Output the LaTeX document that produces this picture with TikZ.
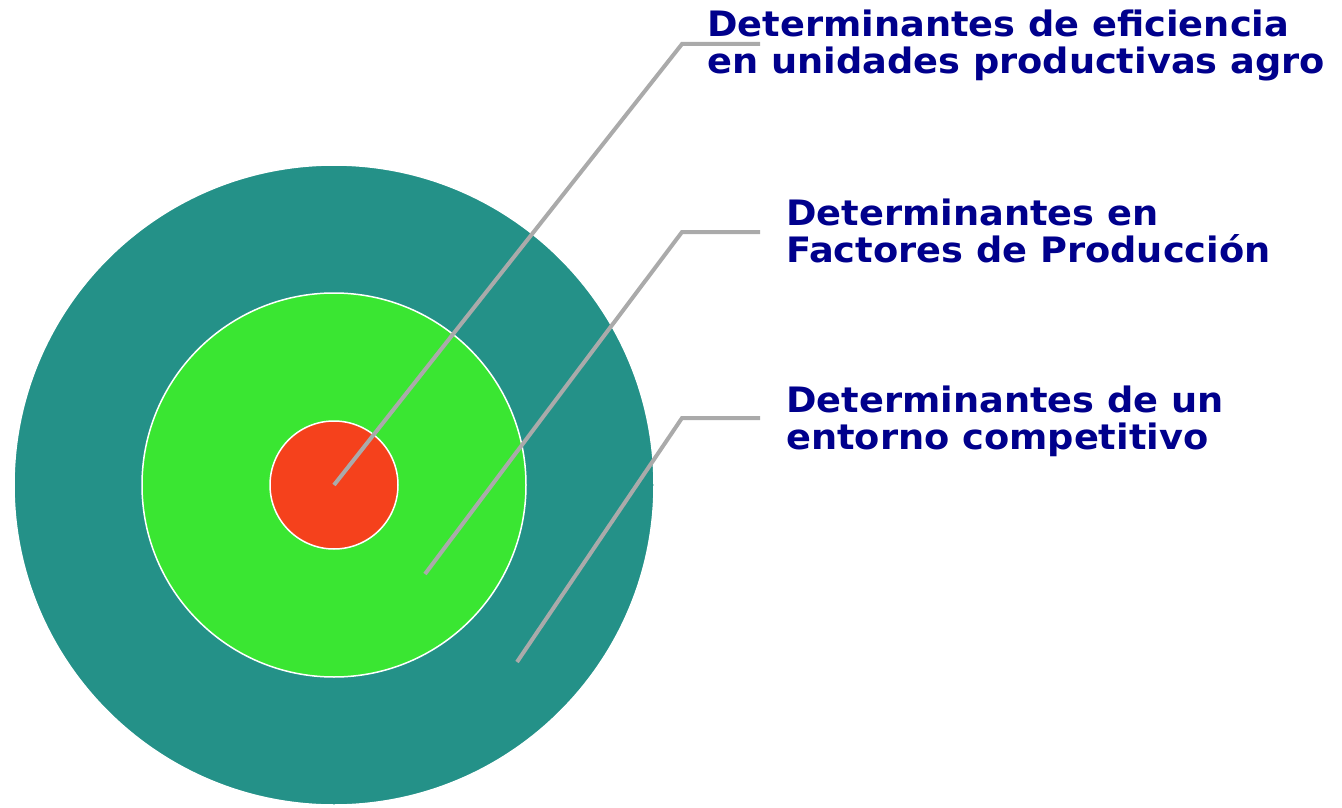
\documentclass[tikz,border=0pt]{standalone}
\usepackage{fontspec}
\setmainfont{DejaVu Sans}
\newfontfamily\labfont[FakeStretch=1.05]{DejaVu Sans}
\definecolor{ringteal}{RGB}{36,145,136}
\definecolor{ringgreen}{RGB}{58,230,50}
\definecolor{ringred}{RGB}{245,65,28}
\definecolor{leadgray}{RGB}{170,170,170}
\definecolor{labblue}{RGB}{0,0,140}
\tikzset{
  ring/.style={circle, draw=white, line width=1.5pt, inner sep=0pt},
  lead/.style={draw=leadgray, line width=4pt, line join=miter},
  lab/.style={text=labblue, font=\labfont\bfseries\fontsize{35}{37}\selectfont, align=left, inner sep=0pt, anchor=base west}
}
\begin{document}
\begin{tikzpicture}[x=1pt, y=-1pt]
    \useasboundingbox (0,0) rectangle (1342,808);
    \node[ring, fill=ringteal, minimum size=640pt] (outer) at (334,485) {};
    \node[ring, fill=ringgreen, minimum size=384pt] (middle) at (334,485) {};
    \node[ring, fill=ringred, minimum size=128pt] (inner) at (334,485) {};
    \node[lab] (l1) at (707,74) {Determinantes de eficiencia\\en unidades productivas agro};
    \node[lab] (l2) at (786,262) {Determinantes en\\Factores de Producción};
    \node[lab] (l3) at (786,449) {Determinantes de un\\entorno competitivo};
    \foreach \x/\y [count=\i from 1] in {334/485,425/574,517/662} {\coordinate (p\i) at (\x,\y);}
    \foreach \k [count=\i from 1] in {44,232,418} {\coordinate (k\i) at (682,\k); \coordinate (e\i) at (760,\k);}
    \foreach \i in {1,2,3} {\draw[lead] (p\i)--(k\i)--(e\i);}
  \end{tikzpicture}
\end{document}
